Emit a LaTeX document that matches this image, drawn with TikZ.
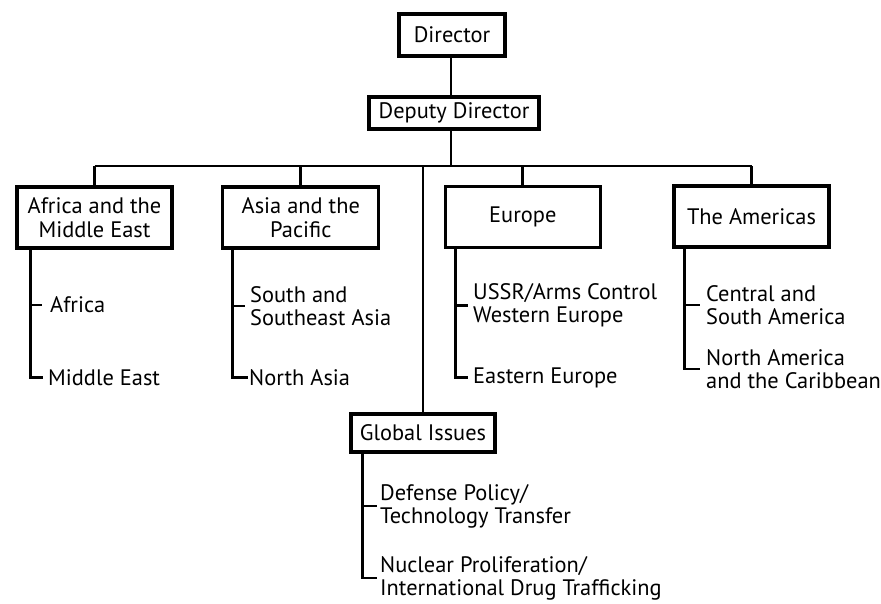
\documentclass[tikz,border=0pt]{standalone}
\usepackage{fontspec}
\setmainfont{PT Sans}
\begin{document}
\begin{tikzpicture}[x=1pt,y=-1pt,
  unit/.style={draw,line width=3.2pt,rectangle,inner sep=0pt,align=center,
    font=\fontsize{22.4}{23.5}\selectfont},
  office/.style={anchor=west,inner sep=0pt,align=left,
    font=\fontsize{22.4}{23}\selectfont},
  link/.style={line width=2.7pt,line cap=butt}]
\useasboundingbox[fill=white] (0,0) rectangle (881,603);

% boxes
\node[unit,minimum width=106,minimum height=42] (dir) at (452,35) {Director};
\node[unit,minimum width=170,minimum height=32] (dep) at (454,113) {Deputy Director};
\node[unit,minimum width=155,minimum height=61] (afr) at (94.5,217.5) {Africa and the\\Middle East};
\node[unit,minimum width=156,minimum height=61] (asia) at (300.8,217.5) {Asia and the\\Pacific};
\node[unit,minimum width=155,minimum height=61] (eur) at (522.8,217) {Europe};
\node[unit,minimum width=155,minimum height=61] (amer) at (751.5,216.5) {The Americas};
\node[unit,minimum width=144,minimum height=38] (glob) at (423,433) {Global Issues};

% offices
\node[office] (africa) at (50,305) {Africa};
\node[office] (mideast) at (48,377.5) {Middle East};
\node[office] (sasia) at (250,306) {South and\\Southeast Asia};
\node[office] (nasia) at (249,377.5) {North Asia};
\node[office] (weur) at (473,305.5) {USSR/Arms Control\\Western Europe};
\node[office] (eeur) at (473,377.5) {Eastern Europe};
\node[office] (csam) at (706,305) {Central and\\South America};
\node[office] (nam) at (706,369) {North America\\and the Caribbean};
\node[office] (def) at (380,506) {Defense Policy/\\Technology Transfer};
\node[office] (nuc) at (380,578) {Nuclear Proliferation/\\International Drug Trafficking};

% trunk and cross bar
\coordinate (bar) at (451,166);
\draw[link] (dir.south -| bar) -- (dep.north -| bar);
\draw[link] (dep.south -| bar) -- (bar);
\draw[link] (afr.north |- bar) -- (amer.north |- bar);
\foreach \b in {afr,asia,eur,amer}
  \draw[link] (\b.north) -- (\b.north |- bar);
\draw[link] (glob.north |- bar) -- (glob.north);

% spines under each box
\coordinate (afrv) at ([xshift=15]afr.south west);
\coordinate (asiav) at ([xshift=11.5]asia.south west);
\coordinate (eurv) at ([xshift=12]eur.south west);
\coordinate (amerv) at ([xshift=12]amer.south west);
\coordinate (globv) at ([xshift=13]glob.south west);

\draw[link] (afrv) |- ([xshift=-5]mideast.west);
\draw[link] (afrv |- africa.west) -- ([xshift=-8]africa.west);
\draw[link] (asiav) |- ([xshift=-1.5]nasia.west);
\draw[link] (asiav |- sasia.west) -- ([xshift=-5]sasia.west);
\draw[link] (eurv) |- ([xshift=-5]eeur.west);
\draw[link] (eurv |- weur.west) -- ([xshift=-5]weur.west);
\draw[link] (amerv) |- ([xshift=-6]nam.west);
\draw[link] (amerv |- csam.west) -- ([xshift=-6]csam.west);
\draw[link] (globv) |- ([xshift=-3]nuc.west);
\draw[link] (globv |- def.west) -- ([xshift=-3]def.west);
\end{tikzpicture}
\end{document}
